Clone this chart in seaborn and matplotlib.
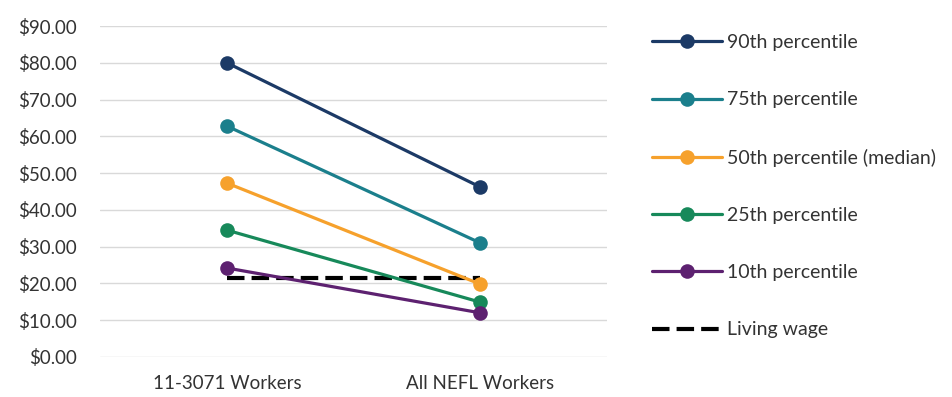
import pandas as pd
import matplotlib.pyplot as plt
import seaborn as sns
from matplotlib.lines import Line2D

# data
groups = ['11-3071 Workers', 'All NEFL Workers']
series = ['90th percentile', '75th percentile', '50th percentile (median)',
          '25th percentile', '10th percentile']
p90 = [80.0, 46.2]
p75 = [62.8, 31.0]
p50 = [47.3, 19.8]
p25 = [34.5, 14.9]
p10 = [24.2, 12.0]
living_wage = [21.5, 21.5]

colors = ['#1c3a66', '#1b7f8c', '#f6a12c', '#17895a', '#5d2170']

values = [p90, p75, p50, p25, p10]
rows = []
for name, vals in zip(series, values):
    for g, v in zip(groups, vals):
        rows.append({'group': g, 'series': name, 'wage': v})
df = pd.DataFrame(rows)
lw_df = pd.DataFrame({'group': groups, 'wage': living_wage})

sns.set_theme(style='white')
plt.rcParams['font.family'] = ['Lato', 'DejaVu Sans']
text_color = '#333333'
dash = (0, (4.2, 1.7))

fig = plt.figure(figsize=(9.53, 3.97), dpi=100)
ax = fig.add_axes([0.105, 0.1008, 0.532, 0.8337])

sns.lineplot(data=lw_df, x='group', y='wage', color='black', linewidth=3,
             linestyle=dash, ax=ax, zorder=2)
sns.lineplot(data=df, x='group', y='wage', hue='series', hue_order=series,
             palette=colors, marker='o', markersize=10.5, markeredgewidth=0,
             linewidth=2.3, ax=ax, legend=False, zorder=3)

ax.set_xlim(-0.5, 1.5)
ax.set_ylim(0, 90)
ax.set_yticks(range(0, 100, 10))
ax.set_yticklabels([f'${v}.00' for v in range(0, 100, 10)])
ax.grid(axis='y', color='#d9d9d9', linewidth=1)
ax.set_axisbelow(True)
for s in ax.spines.values():
    s.set_visible(False)
ax.set_xlabel('')
ax.set_ylabel('')
ax.tick_params(axis='both', length=0, labelsize=13.5, labelcolor=text_color)
ax.tick_params(axis='y', pad=17)
ax.tick_params(axis='x', pad=13)

handles = [Line2D([], [], color=c, linewidth=2.3, marker='o', markersize=10.5,
                  markeredgewidth=0) for c in colors]
handles.append(Line2D([], [], color='black', linewidth=3, linestyle=dash))
labels = series + ['Living wage']
fig.legend(handles, labels, loc='upper left', bbox_to_anchor=(0.666, 0.958),
           frameon=False, fontsize=14, labelspacing=2.07, handlelength=3.6,
           handletextpad=0.26, labelcolor=text_color)

fig.savefig('out.png', dpi=100)
